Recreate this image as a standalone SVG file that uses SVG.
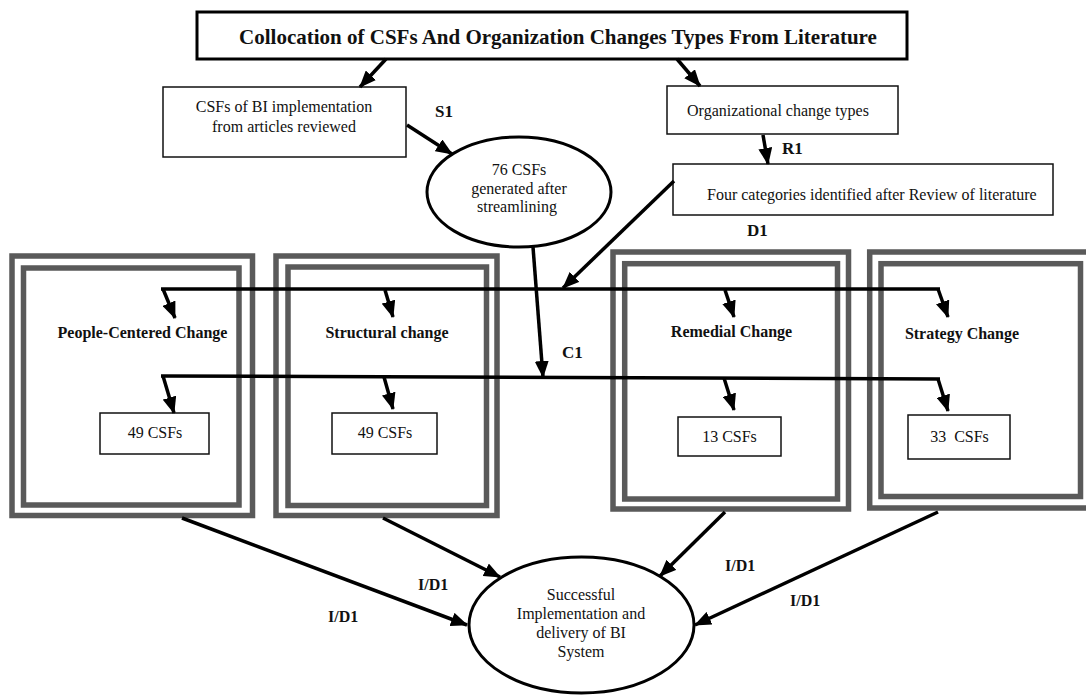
<svg xmlns="http://www.w3.org/2000/svg" width="1086" height="696" viewBox="0 0 1086 696">
<style>
.t{font-family:"Liberation Serif","Times New Roman",serif;fill:#111}
.b{font-weight:bold}
.c{text-anchor:middle}
.box{fill:#fff;stroke:#111;stroke-width:1.5}
.fr{fill:none;stroke:#5a5a5a;stroke-width:5.5}
.ln{fill:none;stroke:#000;stroke-width:3.5}
.ar{fill:none;stroke:#000;stroke-width:3.5;marker-end:url(#ah)}
.el{fill:#fff;stroke:#000;stroke-width:3}
</style>
<defs>
<marker id="ah" markerUnits="userSpaceOnUse" markerWidth="17" markerHeight="14" refX="16" refY="7" orient="auto">
<path d="M0,0 L17,7 L0,14 z" fill="#000"/>
</marker>
</defs>
<rect width="1086" height="696" fill="#fff"/>

<g id="title">
<rect x="197" y="12" width="710" height="47" fill="#fff" stroke="#000" stroke-width="3"/>
<text class="t b c" x="558" y="44" font-size="21">Collocation of CSFs And Organization Changes Types From Literature</text>
</g>

<g id="csfs-articles">
<rect class="box" x="163" y="87" width="243" height="70"/>
<text class="t c" x="284" y="112" font-size="16">CSFs of BI implementation</text>
<text class="t c" x="284" y="132" font-size="16">from articles reviewed</text>
</g>

<g id="org-change-types">
<rect class="box" x="667" y="86" width="231" height="48"/>
<text class="t c" x="778" y="116" font-size="16">Organizational change types</text>
</g>

<g id="four-categories">
<rect class="box" x="673" y="164" width="380" height="51"/>
<text class="t" x="707" y="200" font-size="16">Four categories identified after Review of literature</text>
</g>

<g id="csfs-76">
<ellipse class="el" cx="519" cy="192" rx="92" ry="55"/>
<text class="t c" x="519" y="175" font-size="16">76 CSFs</text>
<text class="t c" x="519" y="194" font-size="16">generated after</text>
<text class="t c" x="517" y="212" font-size="16">streamlining</text>
</g>

<g id="people-centered">
<rect class="fr" x="12" y="256" width="240.5" height="259.5"/>
<rect class="fr" x="23.5" y="268" width="215.5" height="237"/>
<text class="t b c" x="142.5" y="338" font-size="16">People-Centered Change</text>
<rect class="box" x="100" y="413" width="109" height="41"/>
<text class="t c" x="155" y="438" font-size="16">49 CSFs</text>
</g>

<g id="structural">
<rect class="fr" x="276" y="256" width="221" height="259.5"/>
<rect class="fr" x="288" y="267" width="198.5" height="238.5"/>
<text class="t b c" x="387" y="338" font-size="16">Structural change</text>
<rect class="box" x="332" y="413" width="105" height="41"/>
<text class="t c" x="385" y="438" font-size="16">49 CSFs</text>
</g>

<g id="remedial">
<rect class="fr" x="613" y="252" width="235.5" height="257"/>
<rect class="fr" x="624.7" y="263.7" width="212.8" height="235.3"/>
<text class="t b c" x="731.5" y="337" font-size="16">Remedial Change</text>
<rect class="box" x="678" y="417" width="103" height="39"/>
<text class="t c" x="729.5" y="442" font-size="16">13 CSFs</text>
</g>

<g id="strategy">
<rect class="fr" x="869.7" y="252" width="222" height="256"/>
<rect class="fr" x="881" y="263.7" width="199.5" height="232.8"/>
<text class="t b c" x="962" y="339" font-size="16">Strategy Change</text>
<rect class="box" x="908" y="415" width="102" height="44"/>
<text class="t c" x="959.5" y="442" font-size="16" xml:space="preserve">33  CSFs</text>
</g>

<g id="success">
<ellipse class="el" cx="581.5" cy="625" rx="112.5" ry="68"/>
<text class="t c" x="581" y="600" font-size="16">Successful</text>
<text class="t c" x="581" y="619" font-size="16">Implementation and</text>
<text class="t c" x="581" y="638" font-size="16">delivery of BI</text>
<text class="t c" x="581" y="657" font-size="16">System</text>
</g>

<g id="connectors">
<line class="ar" x1="386" y1="59" x2="360" y2="87"/>
<line class="ar" x1="677" y1="59" x2="700" y2="86"/>
<line class="ar" x1="407" y1="125" x2="452" y2="154"/>
<line class="ar" x1="763" y1="135" x2="768" y2="164"/>
<line class="ar" x1="674" y1="181" x2="563" y2="288"/>
<line class="ar" x1="533" y1="247" x2="543" y2="377"/>
<line class="ln" x1="161" y1="289" x2="940" y2="289"/>
<line class="ln" x1="161" y1="376" x2="940" y2="379"/>
<line class="ar" x1="163" y1="289" x2="175" y2="318"/>
<line class="ar" x1="385" y1="290" x2="393" y2="317"/>
<line class="ar" x1="725" y1="290" x2="734" y2="317"/>
<line class="ar" x1="938" y1="289" x2="948" y2="317"/>
<line class="ar" x1="163" y1="376" x2="174" y2="413"/>
<line class="ar" x1="384" y1="377" x2="393" y2="409"/>
<line class="ar" x1="724" y1="378" x2="734" y2="410"/>
<line class="ar" x1="938" y1="379" x2="948" y2="411"/>
<line class="ar" x1="182" y1="518" x2="467" y2="625"/>
<line class="ar" x1="383" y1="518" x2="500" y2="577"/>
<line class="ar" x1="725" y1="512" x2="660" y2="576"/>
<line class="ar" x1="938" y1="512" x2="695" y2="625"/>
<text class="t b" x="435" y="117" font-size="17">S1</text>
<text class="t b" x="782" y="154" font-size="17">R1</text>
<text class="t b" x="747" y="236" font-size="17">D1</text>
<text class="t b" x="562" y="358" font-size="17">C1</text>
<text class="t b" x="418" y="590" font-size="16">I/D1</text>
<text class="t b" x="328" y="622" font-size="16">I/D1</text>
<text class="t b" x="725" y="571" font-size="16">I/D1</text>
<text class="t b" x="790" y="606" font-size="16">I/D1</text>
</g>
</svg>
